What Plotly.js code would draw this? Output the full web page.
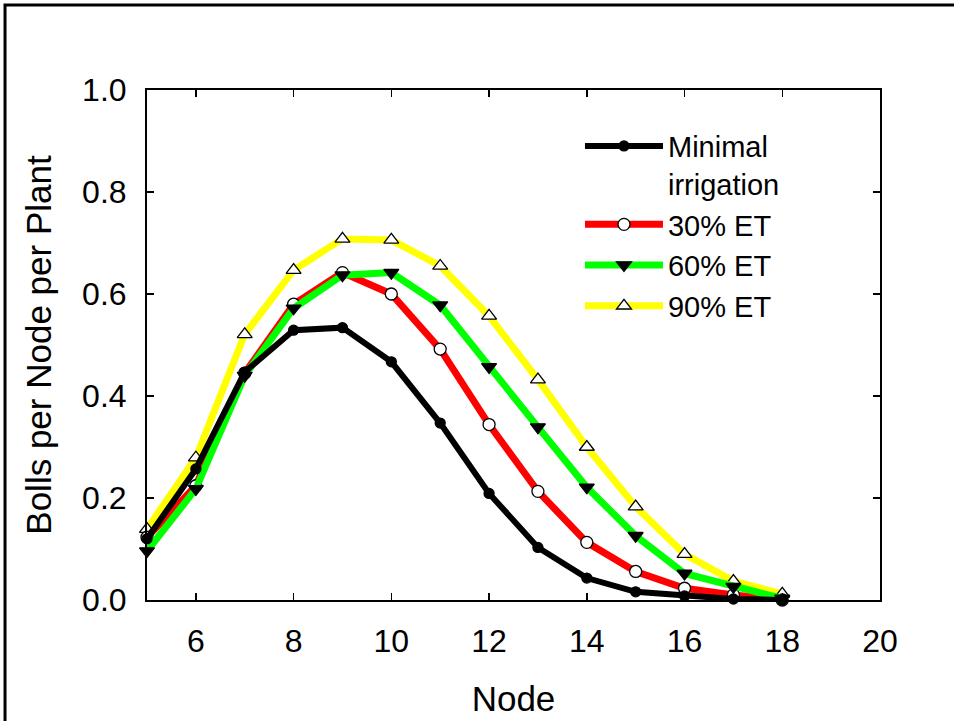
<!DOCTYPE html>
<html><head><meta charset="utf-8">
<script src="https://cdn.plot.ly/plotly-3.0.1.min.js"></script>
<style>body{margin:0;padding:0;background:#fff}#chart{width:954px;height:721px}</style>
</head><body><div id="chart"></div>
<script>
var nodes = [5,6,7,8,9,10,11,12,13,14,15,16,17,18];
var minimal = [0.120,0.257,0.447,0.529,0.534,0.467,0.347,0.209,0.103,0.043,0.016,0.008,0.002,0.000];
var et30 = [0.123,0.224,0.445,0.580,0.642,0.600,0.492,0.344,0.213,0.113,0.056,0.023,0.010,0.000];
var et60 = [0.096,0.218,0.440,0.572,0.637,0.642,0.578,0.457,0.339,0.221,0.126,0.052,0.026,0.003];
var et90 = [0.139,0.279,0.521,0.647,0.708,0.706,0.655,0.557,0.432,0.300,0.183,0.090,0.037,0.012];
var seriesNames = ['Minimal<br>irrigation','30% ET','60% ET','90% ET'];

function tr(y, name, rank, color, lw, sym, mcolor, size){
  return {x:nodes, y:y, name:name, legendrank:rank, type:'scatter', mode:'lines+markers', cliponaxis:false,
    line:{color:color, width:lw},
    marker:{symbol:sym, size:size, color:mcolor, line:{color:'#000', width:1.3}}};
}
var data = [
  tr(et90, seriesNames[3], 4, '#ffff00', 7, 'triangle-up', '#ffffff', 13),
  tr(et30, seriesNames[1], 2, '#ff0000', 7, 'circle', '#ffffff', 12),
  tr(et60, seriesNames[2], 3, '#00ff00', 7, 'triangle-down', '#000000', 13),
  tr(minimal, seriesNames[0], 1, '#000000', 6, 'circle', '#000000', 10)
];
var FF = 'Liberation Sans, Arial, sans-serif';
var axfont = {family:FF, size:32, color:'#000'};
var layout = {
  width:954, height:721,
  margin:{l:147, r:74, t:90, b:121},
  paper_bgcolor:'#fff', plot_bgcolor:'#fff',
  showlegend:true,
  legend:{x:0.5907, y:0.940, xanchor:'left', yanchor:'top', valign:'top', font:{family:FF, size:29, color:'#000'}, bgcolor:'rgba(0,0,0,0)', tracegroupgap:0, itemwidth:78, traceorder:'normal'},
  xaxis:{range:[5,20], tickmode:'array', tickvals:[6,8,10,12,14,16,18,20], ticks:'inside', ticklen:7, tickwidth:1.5, tickcolor:'#000',
    showline:true, linecolor:'#000', linewidth:2, mirror:'ticks', showgrid:false, zeroline:false, ticklabelstandoff:12,
    tickfont:axfont, title:{text:'Node', font:{family:FF, size:35, color:'#000'}, standoff:28}},
  yaxis:{range:[0,1], tickmode:'array', tickvals:[0,0.2,0.4,0.6,0.8,1.0], ticktext:['0.0','0.2','0.4','0.6','0.8','1.0'], ticks:'inside', ticklen:7, tickwidth:1.5, tickcolor:'#000',
    showline:true, linecolor:'#000', linewidth:2, mirror:'ticks', showgrid:false, zeroline:false, ticklabelstandoff:12,
    tickfont:axfont, title:{text:'Bolls per Node per Plant', font:{family:FF, size:35, color:'#000'}, standoff:20}},
  shapes:[{type:'rect', xref:'paper', yref:'paper', x0:-0.1937, x1:1.3, y0:-0.4, y1:1.1667, line:{color:'#000', width:3}, fillcolor:'rgba(0,0,0,0)', layer:'below'}]
};
Plotly.newPlot('chart', data, layout, {displayModeBar:false, staticPlot:true});
</script></body></html>
